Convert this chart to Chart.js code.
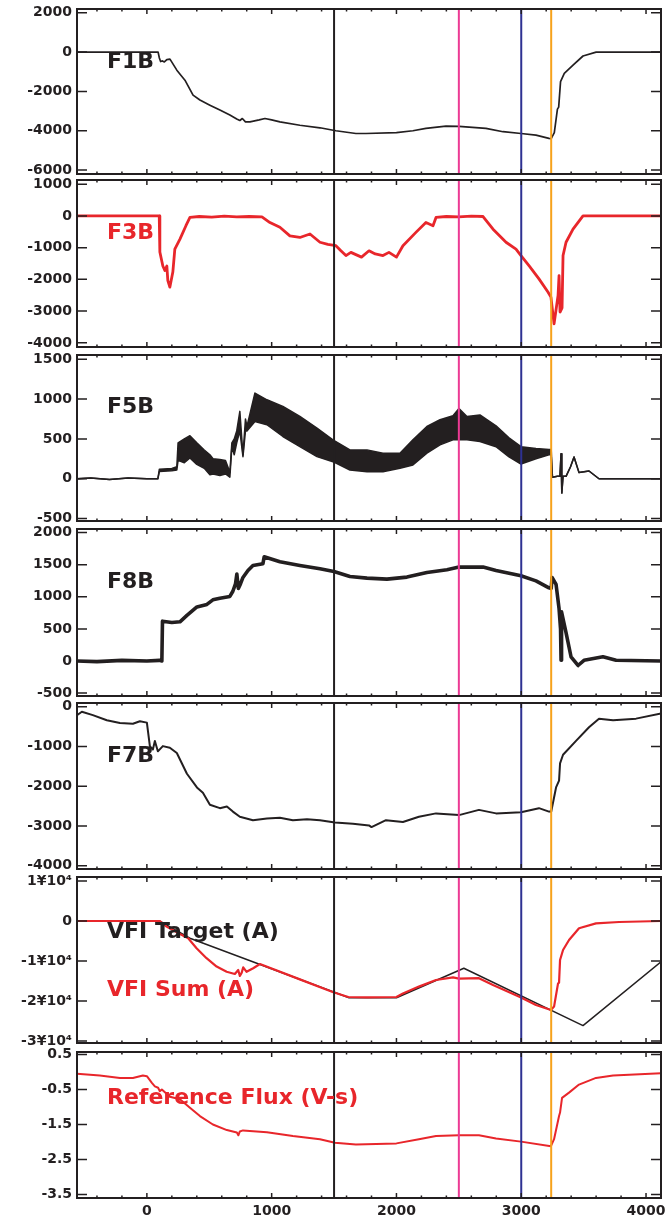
<!DOCTYPE html>
<html>
<head>
<meta charset="utf-8">
<script src="https://cdn.jsdelivr.net/npm/chart.js@4.4.1/dist/chart.umd.min.js"></script>
<style>
html, body { margin: 0; padding: 0; background: #fff; }
#wrap { position: relative; width: 672px; height: 1220px; overflow: hidden; }
#wrap canvas { position: absolute; left: 0; }
</style>
</head>
<body>
<div id="wrap"></div>
<script>
// shared time axis
const xMin = -560, xMax = 4120;
const xMajorTicks = [0, 1000, 2000, 3000, 4000];
const markerX = [1500, 2500, 3000, 3240];
const markerColors = ['#231f20', '#ec3a94', '#2e3192', '#f7a21b'];

// F1B
const f1bX = [-560, -300, 0, 90, 100, 110, 125, 140, 160, 185, 240, 305, 370, 425, 505, 585, 665, 720, 745, 765, 790, 826, 900, 946, 1000, 1066, 1226, 1387, 1515, 1675, 1756, 2000, 2132, 2236, 2397, 2501, 2717, 2854, 2998, 3118, 3222, 3240, 3265, 3290, 3300, 3315, 3345, 3415, 3495, 3600, 4120];
const f1bY = [0, 0, 0, 0, -300, -480, -450, -500, -380, -360, -920, -1430, -2190, -2440, -2700, -2950, -3200, -3400, -3480, -3380, -3550, -3550, -3450, -3380, -3450, -3550, -3720, -3850, -4000, -4140, -4140, -4100, -4000, -3880, -3770, -3780, -3880, -4050, -4140, -4220, -4390, -4400, -4100, -2900, -2800, -1500, -1080, -660, -200, 0, 0];
const f1bTicks = [-6000, -4000, -2000, 0, 2000];

// F3B
const f3bX = [-560, -300, 0, 99, 104, 128, 144, 160, 168, 184, 208, 224, 265, 313, 345, 420, 520, 620, 720, 820, 922, 986, 1066, 1146, 1226, 1307, 1387, 1450, 1515, 1555, 1595, 1635, 1675, 1720, 1780, 1830, 1892, 1940, 2000, 2052, 2156, 2236, 2293, 2317, 2400, 2500, 2600, 2694, 2774, 2878, 2958, 2998, 3062, 3142, 3214, 3238, 3263, 3295, 3303, 3311, 3327, 3335, 3359, 3415, 3495, 3800, 4120];
const f3bY = [0, 0, 0, 0, -1140, -1580, -1720, -1580, -2040, -2245, -1770, -1045, -730, -310, -50, -20, -40, -10, -30, -20, -30, -210, -360, -630, -680, -570, -830, -900, -940, -1100, -1250, -1150, -1220, -1300, -1100, -1200, -1250, -1150, -1300, -940, -520, -210, -310, -50, -20, -30, -10, -20, -420, -830, -1045, -1250, -1570, -1985, -2400, -2560, -3400, -2510, -1880, -3030, -2900, -1250, -830, -420, 0, 0, 0];
const f3bTicks = [-4000, -3000, -2000, -1000, 0, 1000];

// F5B (noisy band: upper and lower envelope)
const f5bX = [-560, -450, -300, -150, 0, 88, 100, 200, 240, 250, 300, 345, 400, 460, 505, 530, 585, 630, 665, 681, 700, 720, 745, 770, 790, 802, 866, 962, 1090, 1226, 1363, 1491, 1627, 1764, 1892, 2028, 2132, 2244, 2349, 2453, 2501, 2565, 2669, 2798, 2902, 2998, 3118, 3222, 3240, 3250, 3290, 3310, 3319, 3325, 3335, 3359, 3395, 3423, 3463, 3543, 3623, 4120];
const f5bHi = [0, 10, -10, 10, 0, 0, 120, 130, 150, 450, 500, 540, 450, 360, 300, 250, 240, 230, 80, 450, 500, 600, 845, 300, 750, 655, 1075, 990, 907, 781, 635, 488, 362, 362, 320, 320, 488, 655, 740, 790, 880, 781, 800, 664, 513, 402, 380, 368, 368, 20, 30, 30, 315, -180, 30, 30, 150, 273, 77, 97, 0, 0];
const f5bLo = [0, 10, -10, 10, 0, 0, 90, 100, 110, 230, 200, 260, 180, 130, 50, 60, 40, 60, 20, 400, 300, 450, 600, 277, 600, 600, 718, 677, 530, 403, 277, 214, 110, 88, 88, 131, 173, 320, 425, 488, 489, 488, 467, 402, 273, 185, 251, 300, 300, 20, 30, 30, 315, -180, 30, 30, 150, 273, 77, 97, 0, 0];
const f5bTicks = [-500, 0, 500, 1000, 1500];

// F8B
const f8bX = [-560, -400, -200, 0, 100, 120, 125, 200, 265, 321, 401, 481, 529, 585, 665, 689, 710, 721, 733, 750, 770, 810, 850, 930, 940, 1066, 1226, 1387, 1499, 1627, 1764, 1924, 2084, 2244, 2405, 2501, 2694, 2798, 2998, 3118, 3222, 3240, 3247, 3279, 3303, 3315, 3319, 3323, 3359, 3399, 3455, 3503, 3655, 3760, 4120];
const f8bY = [0, -10, 10, 0, 10, 0, 620, 600, 610, 710, 842, 881, 952, 978, 1005, 1086, 1200, 1354, 1130, 1200, 1301, 1409, 1488, 1515, 1622, 1544, 1488, 1435, 1393, 1315, 1290, 1274, 1306, 1378, 1420, 1462, 1462, 1409, 1328, 1248, 1139, 1130, 1301, 1193, 817, 500, 11, 764, 441, 66, -70, 11, 66, 11, 0];
const f8bTicks = [-500, 0, 500, 1000, 1500, 2000];

// F7B
const f7bX = [-560, -521, -433, -321, -216, -112, -56, 0, 24, 48, 64, 88, 128, 184, 240, 321, 401, 449, 505, 585, 641, 689, 745, 850, 962, 1066, 1170, 1283, 1387, 1507, 1651, 1780, 1800, 1916, 2052, 2180, 2317, 2501, 2661, 2798, 2998, 3142, 3222, 3240, 3279, 3303, 3311, 3335, 3439, 3543, 3623, 3736, 3920, 4120];
const f7bY = [-211, -126, -211, -342, -410, -428, -367, -400, -991, -1077, -860, -1122, -991, -1032, -1165, -1686, -2030, -2161, -2466, -2551, -2509, -2637, -2768, -2853, -2811, -2790, -2853, -2830, -2853, -2913, -2941, -2984, -3027, -2853, -2898, -2768, -2682, -2725, -2594, -2682, -2654, -2551, -2637, -2640, -2030, -1857, -1424, -1208, -860, -516, -300, -342, -300, -169];
const f7bTicks = [-4000, -3000, -2000, -1000, 0];

// VFI target / sum (A)
const vtX = [-560, 100, 345, 1620, 2000, 2540, 3495, 4120];
const vtY = [0, 0, -4300, -19200, -19200, -11800, -26150, -10200];
const vsX = [-560, -300, 0, 104, 158, 265, 331, 398, 478, 559, 639, 705, 732, 745, 760, 772, 799, 852, 906, 1226, 1494, 1614, 1761, 2000, 2052, 2180, 2317, 2453, 2501, 2661, 2774, 2998, 3118, 3238, 3263, 3295, 3303, 3311, 3335, 3383, 3463, 3599, 3784, 4120];
const vsY = [0, 0, 0, 0, -1400, -3250, -4300, -6800, -9300, -11400, -12700, -13250, -12250, -13750, -12900, -11600, -12700, -11800, -10750, -14600, -17800, -19000, -19100, -19000, -18100, -16400, -14750, -14100, -14400, -14300, -16000, -19100, -21000, -22250, -21400, -15600, -15400, -9750, -7250, -4750, -1800, -600, -250, 0];
const vfiTicks = [-30000, -20000, -10000, 0, 10000];

// Reference flux (V-s)
const rfX = [-560, -377, -216, -112, -32, 0, 40, 64, 90, 104, 120, 184, 265, 345, 425, 529, 641, 721, 733, 745, 770, 962, 1170, 1387, 1507, 1675, 2000, 2180, 2317, 2501, 2661, 2798, 2998, 3238, 3263, 3303, 3311, 3327, 3383, 3463, 3599, 3736, 4120];
const rfY = [-0.05, -0.10, -0.17, -0.17, -0.10, -0.12, -0.31, -0.41, -0.45, -0.55, -0.50, -0.71, -0.78, -1.02, -1.26, -1.50, -1.66, -1.73, -1.81, -1.70, -1.67, -1.72, -1.83, -1.92, -2.02, -2.07, -2.04, -1.92, -1.83, -1.81, -1.81, -1.90, -1.99, -2.12, -1.92, -1.26, -1.16, -0.74, -0.59, -0.36, -0.17, -0.10, -0.04];
const rfTicks = [-3.5, -2.5, -1.5, -0.5, 0.5];

// layout
const panelTops = [9, 180, 355, 529, 703, 877, 1052];
const panelBottoms = [174, 347, 521, 696, 869, 1043, 1198];
const edge = 16; // room above/below each frame for the end tick labels
const ink = '#231f20';
const red = '#e8262b';
const tickFont = { family: 'DejaVu Sans', size: 14, weight: 'bold' };
const $wrap = document.getElementById('wrap');

function pts(xs, ys) {
    return xs.map((x, i) => ({ x: x, y: ys[i] }));
}

function lineSet(xs, ys, color, width, extra) {
    return Object.assign({
        data: pts(xs, ys),
        borderColor: color,
        backgroundColor: color,
        borderWidth: width,
        pointRadius: 0,
        tension: 0,
        fill: false,
        borderJoinStyle: 'round'
    }, extra || {});
}

// IDL style frame: box, inward ticks, event markers and panel labels
const idlFrame = {
    id: 'idlFrame',
    afterDatasetsDraw(chart, args, opts) {
        const ctx = chart.ctx;
        const a = chart.chartArea;
        const xs = chart.scales.x, ys = chart.scales.y;
        ctx.save();
        markerX.forEach((v, i) => {
            const px = xs.getPixelForValue(v);
            ctx.strokeStyle = markerColors[i];
            ctx.lineWidth = 2;
            ctx.beginPath();
            ctx.moveTo(px, a.top);
            ctx.lineTo(px, a.bottom);
            ctx.stroke();
        });
        ctx.strokeStyle = ink;
        ctx.lineWidth = 1.5;
        ctx.beginPath();
        for (let v = Math.ceil(xMin / 200) * 200; v <= xMax; v += 200) {
            const px = xs.getPixelForValue(v);
            const len = v % 1000 === 0 ? 5 : 2.5;
            ctx.moveTo(px, a.top); ctx.lineTo(px, a.top + len);
            ctx.moveTo(px, a.bottom); ctx.lineTo(px, a.bottom - len);
        }
        ys.ticks.forEach(t => {
            const py = ys.getPixelForValue(t.value);
            ctx.moveTo(a.left, py); ctx.lineTo(a.left + 10, py);
            ctx.moveTo(a.right, py); ctx.lineTo(a.right - 10, py);
        });
        ctx.stroke();
        ctx.lineWidth = 2;
        ctx.strokeRect(a.left, a.top, a.right - a.left, a.bottom - a.top);
        ctx.font = 'bold 22px "DejaVu Sans"';
        ctx.textBaseline = 'alphabetic';
        (opts.labels || []).forEach(l => {
            ctx.fillStyle = l.color;
            ctx.fillText(l.text, 107, a.top + l.dy + 8);
        });
        ctx.restore();
    }
};

function makePanel(i, datasets, yMin, yMax, yTicks, tickText, labels) {
    const last = i === panelTops.length - 1;
    const top = panelTops[i] - edge;
    const bottom = last ? 1220 : panelBottoms[i] + edge;
    const cv = document.createElement('canvas');
    cv.width = 672;
    cv.height = bottom - top;
    cv.style.top = top + 'px';
    $wrap.appendChild(cv);
    return new Chart(cv, {
        type: 'line',
        data: { datasets: datasets },
        options: {
            responsive: false,
            animation: false,
            devicePixelRatio: 1,
            layout: { padding: { left: 0, right: 11, top: edge, bottom: last ? 0 : edge } },
            plugins: {
                legend: { display: false },
                tooltip: { enabled: false },
                idlFrame: { labels: labels }
            },
            scales: {
                x: {
                    type: 'linear',
                    min: xMin,
                    max: xMax,
                    display: last,
                    afterBuildTicks: s => { s.ticks = xMajorTicks.map(v => ({ value: v })); },
                    afterFit: last ? (s => { s.height = 22; }) : undefined,
                    grid: { display: false, drawTicks: false },
                    border: { display: false },
                    ticks: { font: tickFont, color: ink, padding: 5, maxRotation: 0, autoSkip: false, callback: v => String(v) }
                },
                y: {
                    type: 'linear',
                    min: yMin,
                    max: yMax,
                    afterBuildTicks: s => { s.ticks = yTicks.map(v => ({ value: v })); },
                    afterFit: s => { s.width = 77; },
                    grid: { display: false, drawTicks: false },
                    border: { display: false },
                    ticks: { font: tickFont, color: ink, padding: 5, autoSkip: false, callback: tickText || (v => String(v)) }
                }
            }
        },
        plugins: [idlFrame]
    });
}

makePanel(0, [lineSet(f1bX, f1bY, ink, 1.7)], -6200, 2190, f1bTicks, null,
    [{ text: 'F1B', color: ink, dy: 51 }]);

makePanel(1, [lineSet(f3bX, f3bY, red, 2.8)], -4130, 1130, f3bTicks, null,
    [{ text: 'F3B', color: red, dy: 51 }]);

makePanel(2, [
    lineSet(f5bX, f5bHi, ink, 1.5, { fill: '+1', backgroundColor: ink }),
    lineSet(f5bX, f5bLo, ink, 1.5)
], -530, 1552, f5bTicks, null, [{ text: 'F5B', color: ink, dy: 50 }]);

makePanel(3, [lineSet(f8bX, f8bY, ink, 3.6)], -545, 2055, f8bTicks, null,
    [{ text: 'F8B', color: ink, dy: 51 }]);

makePanel(4, [lineSet(f7bX, f7bY, ink, 2)], -4080, 93, f7bTicks, null,
    [{ text: 'F7B', color: ink, dy: 51 }]);

makePanel(5, [
    lineSet(vsX, vsY, red, 2.2),
    lineSet(vtX, vtY, ink, 1.5)
], -30500, 11000, vfiTicks, v => (v === 0 ? '0' : (v / 10000) + '¥10⁴'),
    [{ text: 'VFI Target (A)', color: ink, dy: 53 }, { text: 'VFI Sum (A)', color: red, dy: 111 }]);

makePanel(6, [lineSet(rfX, rfY, red, 2)], -3.6, 0.57, rfTicks, null,
    [{ text: 'Reference Flux (V-s)', color: red, dy: 44 }]);
</script>
</body>
</html>
